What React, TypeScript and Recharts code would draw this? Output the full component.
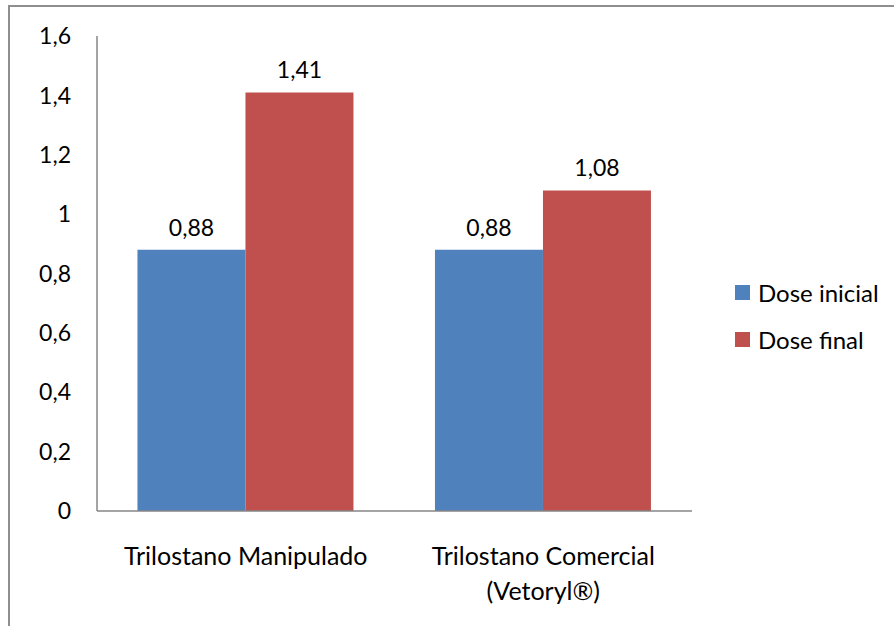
import { BarChart, Bar, XAxis, YAxis, LabelList } from 'recharts';

const categories = ['Trilostano Manipulado', 'Trilostano Comercial\n(Vetoryl®)'];
const doseInicial = [0.88, 0.88];
const doseFinal = [1.41, 1.08];
const yTicks = [0, 0.2, 0.4, 0.6, 0.8, 1, 1.2, 1.4, 1.6];
const seriesNames = ['Dose inicial', 'Dose final'];

const BLUE = '#4F81BD';
const RED = '#C0504D';
const AXIS = '#868686';
const FONT = 'Lato, "Open Sans", sans-serif';
const NUM_FS = 23;
const TXT_FS = 25;

const data = categories.map((name, i) => ({ name, inicial: doseInicial[i], final: doseFinal[i] }));

const fmt = (v: number) => (Number.isInteger(v) ? String(v) : v.toFixed(2).replace(/0$/, '').replace('.', ','));

function CategoryTick({ x, y, payload }: any) {
  const lines = String(payload.value).split('\n');
  return (
    <text x={x} y={y + 46} textAnchor="middle" fill="#000" fontSize={TXT_FS} fontFamily={FONT}>
      {lines.map((l, i) => (
        <tspan key={i} x={x} dy={i === 0 ? 0 : 35}>{l}</tspan>
      ))}
    </text>
  );
}

export default function App() {
  const colors = [BLUE, RED];
  return (
    <div style={{ position: 'absolute', left: 0, top: 0, width: 894, height: 626, overflow: 'hidden', background: '#fff' }}>
      <BarChart
        width={894}
        height={626}
        data={data}
        margin={{ top: 36, right: 202, bottom: 25, left: 37 }}
        barCategoryGap="13.6%"
        barGap={0}
      >
        <YAxis
          width={60}
          domain={[0, 1.6]}
          ticks={yTicks}
          tickFormatter={fmt}
          tickLine={false}
          tickMargin={20}
          axisLine={{ stroke: AXIS, strokeWidth: 1.5 }}
          tick={{ fill: '#000', fontSize: NUM_FS, fontFamily: FONT }}
        />
        <XAxis
          dataKey="name"
          height={90}
          tickLine={false}
          axisLine={{ stroke: AXIS, strokeWidth: 1.5 }}
          tick={<CategoryTick />}
          interval={0}
        />
        <Bar dataKey="inicial" name={seriesNames[0]} fill={BLUE} isAnimationActive={false}>
          <LabelList dataKey="inicial" position="top" offset={14} formatter={(v: any) => fmt(Number(v))} fill="#000" fontSize={NUM_FS} fontFamily={FONT} />
        </Bar>
        <Bar dataKey="final" name={seriesNames[1]} fill={RED} isAnimationActive={false}>
          <LabelList dataKey="final" position="top" offset={14} formatter={(v: any) => fmt(Number(v))} fill="#000" fontSize={NUM_FS} fontFamily={FONT} />
        </Bar>
      </BarChart>
      <div style={{ position: 'absolute', left: 735, top: 269, fontFamily: FONT, fontSize: 24, color: '#000' }}>
        {seriesNames.map((label, i) => (
          <div key={label} style={{ display: 'flex', alignItems: 'center', height: 47, whiteSpace: 'nowrap' }}>
            <span style={{ width: 15, height: 15, background: colors[i], marginRight: 8, display: 'inline-block' }} />
            {label}
          </div>
        ))}
      </div>
      <svg width={894} height={626} style={{ position: 'absolute', left: 0, top: 0, pointerEvents: 'none' }}>
        <polyline points="9,640 9,6 900,6" fill="none" stroke="#8f8f8f" strokeWidth={2} />
      </svg>
    </div>
  );
}
